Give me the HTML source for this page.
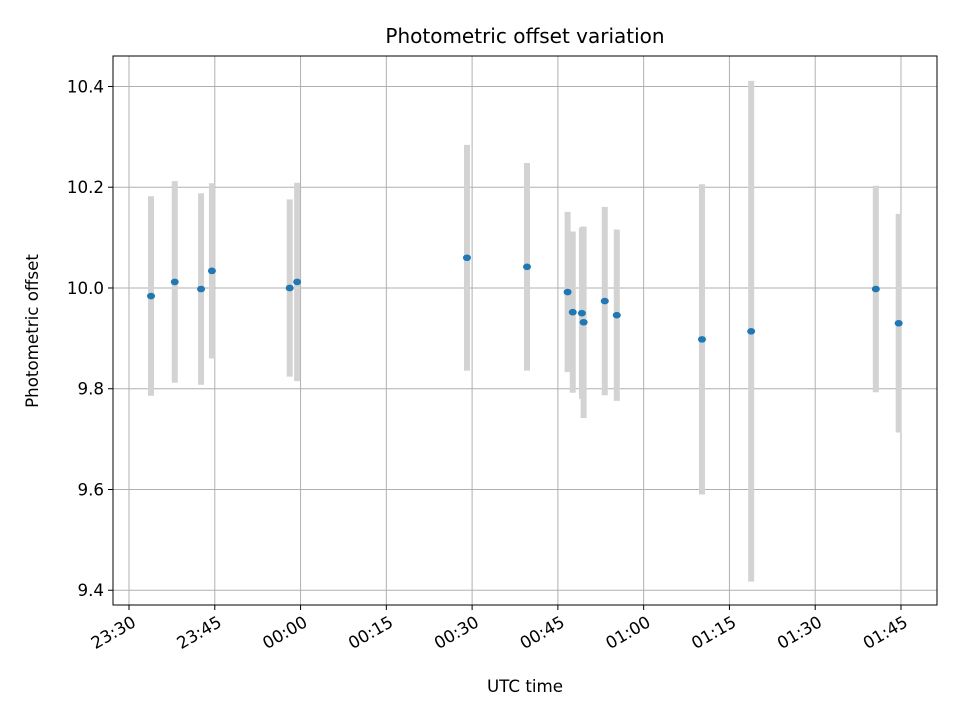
<!DOCTYPE html>
<html><head><meta charset="utf-8"><style>body{margin:0;background:#fff}svg text{font-family:"DejaVu Sans","Liberation Sans",sans-serif}</style></head>
<body>
<svg id="chart" width="960" height="720" xmlns="http://www.w3.org/2000/svg">
<rect width="960" height="720" fill="#fff"/>
<g id="grid"></g>
<g id="bars"></g>
<g id="pts"></g>
<rect x="113" y="56" width="824" height="549" fill="none" stroke="#000" stroke-width="1"/>
<g id="axes"></g>
<text x="525" y="43" text-anchor="middle" font-size="20">Photometric offset variation</text>
<text x="525" y="692" text-anchor="middle" font-size="16.7">UTC time</text>
<text transform="translate(38,331) rotate(-90)" text-anchor="middle" font-size="16.7">Photometric offset</text>
</svg>
<script>
// minutes after 23:30 UTC
const times = [3.85, 8.0, 12.6, 14.5, 28.1, 29.4, 59.1, 69.6, 76.7, 77.6, 79.2, 79.5, 83.2, 85.3, 100.2, 108.8, 130.6, 134.6];
const offsets = [9.984, 10.012, 9.998, 10.034, 10.0, 10.012, 10.06, 10.042, 9.992, 9.952, 9.95, 9.932, 9.974, 9.946, 9.898, 9.914, 9.998, 9.93];
const errors = [0.198, 0.2, 0.19, 0.174, 0.176, 0.197, 0.224, 0.206, 0.159, 0.16, 0.17, 0.19, 0.187, 0.17, 0.308, 0.497, 0.205, 0.217];
const xTickMinutes = [0, 15, 30, 45, 60, 75, 90, 105, 120, 135];
const xTickLabels = ["23:30", "23:45", "00:00", "00:15", "00:30", "00:45", "01:00", "01:15", "01:30", "01:45"];
const yTicks = [9.4, 9.6, 9.8, 10.0, 10.2, 10.4];

const L=113,R=937,T=56,B=605;
const xMin=-2.8,xMax=141.3,yMin=9.3707,yMax=10.4605;
const X=v=>L+(v-xMin)/(xMax-xMin)*(R-L);
const Y=v=>B-(v-yMin)/(yMax-yMin)*(B-T);
const NS="http://www.w3.org/2000/svg";
function mk(tag,attrs,parent){const e=document.createElementNS(NS,tag);for(const k in attrs)e.setAttribute(k,attrs[k]);parent.appendChild(e);return e;}
const grid=document.getElementById('grid'),axes=document.getElementById('axes'),bars=document.getElementById('bars'),pts=document.getElementById('pts');
xTickMinutes.forEach((m,i)=>{
  const x=X(m);
  const g=mk('line',{x1:x,x2:x,y1:T,y2:B,stroke:'#b0b0b0','stroke-width':1},grid);
  
  
  const t=mk('line',{x1:x,x2:x,y1:B,y2:B+5,stroke:'#000'},axes);
  
  
  const tx=mk('text',{transform:`translate(${x+2},${B+10}) rotate(-30)`,x:0,y:12,'text-anchor':'end','font-size':16.7},axes);
  tx.textContent=xTickLabels[i];
  
  
});
yTicks.forEach(v=>{
  const y=Y(v);
  const g=mk('line',{x1:L,x2:R,y1:y,y2:y,stroke:'#b0b0b0','stroke-width':1},grid);
  
  
  const t=mk('line',{x1:L-5,x2:L,y1:y,y2:y,stroke:'#000'},axes);
  
  
  const tx=mk('text',{x:L-9,y:y+6,'text-anchor':'end','font-size':16.7},axes);
  tx.textContent=v.toFixed(1);
  
  
});
times.forEach((m,i)=>{
  const x=X(m);
  const b=mk('line',{x1:x,x2:x,y1:Y(offsets[i]+errors[i]),y2:Y(offsets[i]-errors[i]),stroke:'#d3d3d3','stroke-width':6},bars);
  
  
  const p=mk('ellipse',{cx:x,cy:Y(offsets[i]),rx:4,ry:3.3,fill:'#1f77b4'},pts);
  
  
});
</script>
</body></html>
